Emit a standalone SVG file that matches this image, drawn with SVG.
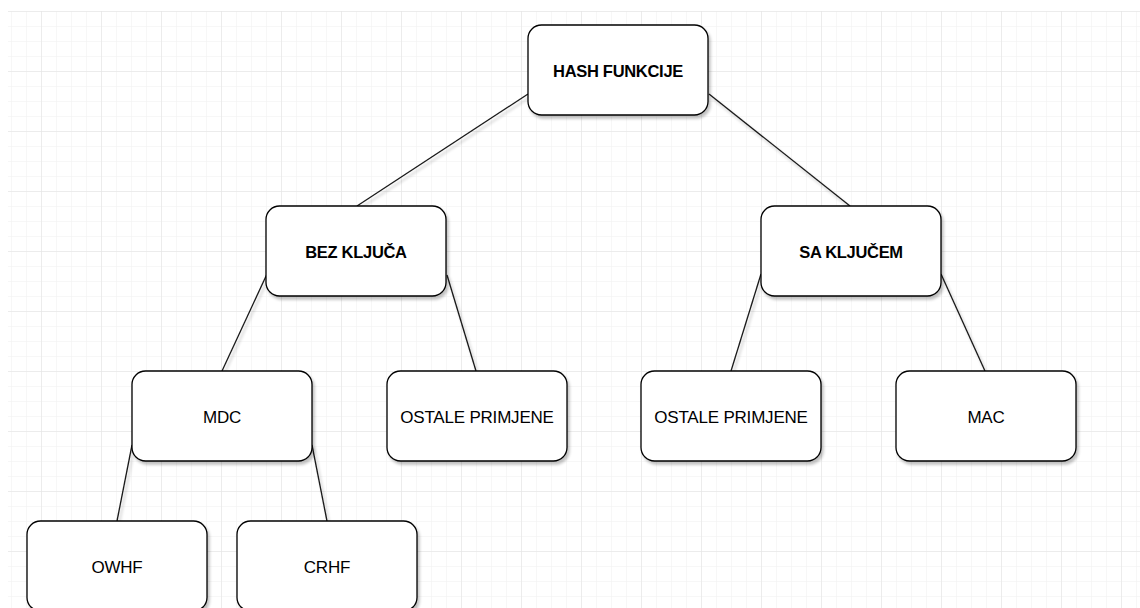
<svg xmlns="http://www.w3.org/2000/svg" width="1140" height="608" viewBox="0 0 1140 608">
<defs>
<pattern id="minor" x="11" y="11" width="15" height="15" patternUnits="userSpaceOnUse">
<path d="M15 0H0V15" fill="none" stroke="#f0f0f0" stroke-width="1"/>
</pattern>
<pattern id="major" x="-19" y="11" width="60" height="60" patternUnits="userSpaceOnUse">
<path d="M60 0H0V60" fill="none" stroke="#e2e2e2" stroke-width="1"/>
</pattern>
<filter id="sh" x="-10%" y="-10%" width="130%" height="140%">
<feGaussianBlur in="SourceAlpha" stdDeviation="1.5"/>
<feOffset dx="2" dy="3" result="b"/>
<feComponentTransfer><feFuncA type="linear" slope="0.25"/></feComponentTransfer>
<feMerge><feMergeNode/><feMergeNode in="SourceGraphic"/></feMerge>
</filter>
</defs>
<style>
.node rect{fill:#fff;stroke:#000;stroke-width:1.3;filter:url(#sh)}
.node text{font-family:"Liberation Sans",Arial,sans-serif;font-size:17px;text-anchor:middle;dominant-baseline:central;fill:#000;letter-spacing:-0.2px}
.node text.b{font-weight:bold;font-size:16.5px;letter-spacing:-0.3px}
.edges line{stroke:#1a1a1a;stroke-width:1.3}
</style>
<rect x="0" y="0" width="1140" height="608" fill="#fff"/>
<rect x="8" y="11" width="1132" height="597" fill="url(#minor)"/>
<rect x="8" y="11" width="1132" height="597" fill="url(#major)"/>
<g id="connectors" class="edges" filter="url(#sh)">
<line x1="528" y1="94" x2="357" y2="206"/>
<line x1="709" y1="94" x2="850" y2="206"/>
<line x1="267" y1="274" x2="222" y2="371"/>
<line x1="447" y1="275" x2="476" y2="371"/>
<line x1="761" y1="274" x2="731" y2="371"/>
<line x1="941" y1="274" x2="985" y2="371"/>
<line x1="132" y1="445" x2="117" y2="521"/>
<line x1="312" y1="445" x2="327" y2="521"/>
</g>
<g id="hash" class="node"><rect x="528" y="25" width="180" height="90" rx="13.5"/><text class="b" x="618" y="71">HASH FUNKCIJE</text></g>
<g id="bez" class="node"><rect x="266" y="206" width="180" height="90" rx="13.5"/><text class="b" x="356" y="252">BEZ KLJUČA</text></g>
<g id="sa" class="node"><rect x="761" y="206" width="180" height="90" rx="13.5"/><text class="b" x="851" y="252">SA KLJUČEM</text></g>
<g id="mdc" class="node"><rect x="132" y="371" width="180" height="90" rx="13.5"/><text x="222" y="417">MDC</text></g>
<g id="ostale1" class="node"><rect x="387" y="371" width="180" height="90" rx="13.5"/><text x="477" y="417">OSTALE PRIMJENE</text></g>
<g id="ostale2" class="node"><rect x="641" y="371" width="180" height="90" rx="13.5"/><text x="731" y="417">OSTALE PRIMJENE</text></g>
<g id="mac" class="node"><rect x="896" y="371" width="180" height="90" rx="13.5"/><text x="986" y="417">MAC</text></g>
<g id="owhf" class="node"><rect x="27" y="521" width="180" height="90" rx="13.5"/><text x="117" y="567">OWHF</text></g>
<g id="crhf" class="node"><rect x="237" y="521" width="180" height="90" rx="13.5"/><text x="327" y="567">CRHF</text></g>
</svg>
